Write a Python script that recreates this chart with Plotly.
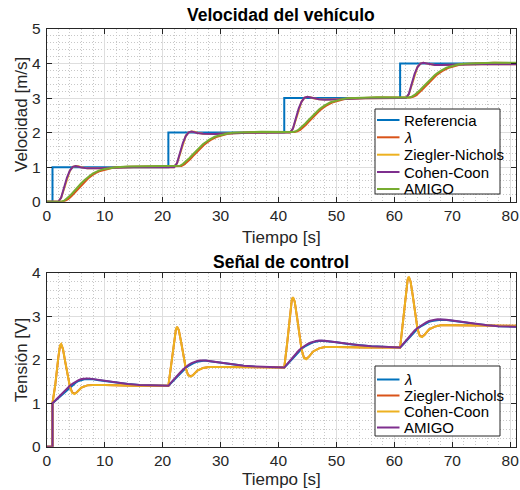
import plotly.graph_objects as go

# ---------------- data ----------------
# top: vehicle speed [m/s]
t_ref = [0, 1, 1, 21, 21, 41, 41, 61, 61, 81]
v_ref = [0, 0, 1, 1, 2, 2, 3, 3, 4, 4]

t_fast_v = [0, 2.0, 2.5, 3.0, 3.5, 4.0, 4.5, 5.0, 5.5, 6.0, 7.0, 8.0, 9.0, 10.0, 12.0, 15.0, 21.0,
            22.0, 22.5, 23.0, 23.5, 24.0, 24.5, 25.0, 25.5, 26.0, 27.0, 28.0, 29.0, 30.0, 32.0, 35.0, 41.0,
            42.0, 42.5, 43.0, 43.5, 44.0, 44.5, 45.0, 45.5, 46.0, 47.0, 48.0, 49.0, 50.0, 52.0, 55.0, 61.0,
            62.0, 62.5, 63.0, 63.5, 64.0, 64.5, 65.0, 65.5, 66.0, 67.0, 68.0, 69.0, 70.0, 72.0, 75.0, 81.0]
v_cc_v = [0, 0, 0.12, 0.40, 0.70, 0.90, 1.01, 1.03, 1.02, 0.99, 0.965, 0.96, 0.965, 0.975, 0.99, 1.0, 1.0,
          1.0, 1.12, 1.40, 1.70, 1.90, 2.01, 2.03, 2.02, 1.99, 1.965, 1.955, 1.96, 1.97, 1.985, 1.995, 2.0,
          2.0, 2.12, 2.40, 2.70, 2.90, 3.01, 3.035, 3.02, 2.99, 2.965, 2.955, 2.96, 2.97, 2.985, 2.995, 3.0,
          3.0, 3.12, 3.40, 3.70, 3.90, 4.0, 4.02, 4.0, 3.98, 3.96, 3.955, 3.96, 3.965, 3.975, 3.98, 3.98]
v_zn_v = [0, 0, 0.11, 0.39, 0.69, 0.90, 1.01, 1.035, 1.025, 0.995, 0.965, 0.96, 0.965, 0.975, 0.99, 1.0, 1.0,
          1.0, 1.11, 1.39, 1.69, 1.90, 2.01, 2.035, 2.025, 1.995, 1.965, 1.955, 1.96, 1.97, 1.985, 1.995, 2.0,
          2.0, 2.11, 2.39, 2.69, 2.90, 3.01, 3.04, 3.025, 2.995, 2.965, 2.955, 2.96, 2.97, 2.985, 2.995, 3.0,
          3.0, 3.11, 3.39, 3.69, 3.90, 4.0, 4.025, 4.005, 3.985, 3.96, 3.955, 3.96, 3.965, 3.975, 3.98, 3.98]

t_amigo_v = [0, 2.5, 3.0, 3.5, 4.0, 4.5, 5.0, 5.5, 6.0, 6.5, 7.0, 7.5, 8.0, 9.0, 10.0, 11.0, 12.0, 14.0, 17.0, 22.5,
             23.0, 23.5, 24.0, 24.5, 25.0, 25.5, 26.0, 26.5, 27.0, 27.5, 28.0, 29.0, 30.0, 31.0, 32.0, 34.0, 37.0, 42.5,
             43.0, 43.5, 44.0, 44.5, 45.0, 45.5, 46.0, 46.5, 47.0, 47.5, 48.0, 49.0, 50.0, 51.0, 52.0, 54.0, 57.0, 62.5,
             63.0, 63.5, 64.0, 64.5, 65.0, 65.5, 66.0, 66.5, 67.0, 67.5, 68.0, 69.0, 70.0, 71.0, 72.0, 74.0, 77.0, 81.0]
v_amigo_v = [0, 0, 0.03, 0.09, 0.17, 0.26, 0.36, 0.45, 0.54, 0.62, 0.70, 0.76, 0.82, 0.90, 0.95, 0.98, 1.0, 1.02, 1.025, 1.02,
             1.04, 1.09, 1.16, 1.24, 1.33, 1.42, 1.51, 1.59, 1.67, 1.73, 1.79, 1.88, 1.93, 1.97, 1.995, 2.015, 2.025, 2.02,
             2.04, 2.09, 2.16, 2.24, 2.33, 2.42, 2.51, 2.59, 2.67, 2.73, 2.79, 2.88, 2.93, 2.97, 2.995, 3.015, 3.025, 3.02,
             3.04, 3.09, 3.16, 3.24, 3.33, 3.42, 3.51, 3.59, 3.67, 3.73, 3.79, 3.88, 3.93, 3.97, 3.995, 4.015, 4.025, 4.02]

t_lam_v = [0, 2.75, 3.25, 3.75, 4.25, 4.75, 5.25, 5.75, 6.25, 6.75, 7.25, 7.75, 8.25, 9.25, 10.25, 11.25, 12.25, 14.25, 17.25, 22.75,
           23.25, 23.75, 24.25, 24.75, 25.25, 25.75, 26.25, 26.75, 27.25, 27.75, 28.25, 29.25, 30.25, 31.25, 32.25, 34.25, 37.25, 42.75,
           43.25, 43.75, 44.25, 44.75, 45.25, 45.75, 46.25, 46.75, 47.25, 47.75, 48.25, 49.25, 50.25, 51.25, 52.25, 54.25, 57.25, 62.75,
           63.25, 63.75, 64.25, 64.75, 65.25, 65.75, 66.25, 66.75, 67.25, 67.75, 68.25, 69.25, 70.25, 71.25, 72.25, 74.25, 77.25, 81.0]
v_lam_v = [0, 0, 0.03, 0.08, 0.16, 0.25, 0.35, 0.44, 0.53, 0.61, 0.69, 0.75, 0.81, 0.89, 0.94, 0.975, 0.995, 1.015, 1.02, 1.015,
           1.035, 1.08, 1.15, 1.23, 1.32, 1.41, 1.50, 1.58, 1.66, 1.72, 1.78, 1.87, 1.925, 1.965, 1.99, 2.01, 2.02, 2.015,
           2.035, 2.08, 2.15, 2.23, 2.32, 2.41, 2.50, 2.58, 2.66, 2.72, 2.78, 2.87, 2.925, 2.965, 2.99, 3.01, 3.02, 3.015,
           3.035, 3.08, 3.15, 3.23, 3.32, 3.41, 3.50, 3.58, 3.66, 3.72, 3.78, 3.87, 3.925, 3.965, 3.99, 4.01, 4.02, 4.015]

# bottom: control signal [V]
t_fast_u = [0, 1.0, 1.0, 1.5, 2.0, 2.3, 2.5, 2.8, 3.2, 3.6, 4.0, 4.4, 4.8, 5.2, 5.6, 6.0, 7.0, 8.0, 10.0, 12.0, 15.0, 21.0,
            21.5, 22.0, 22.3, 22.5, 22.8, 23.2, 23.6, 24.0, 24.4, 24.8, 25.2, 25.6, 26.0, 27.0, 28.0, 30.0, 32.0, 35.0, 41.0,
            41.5, 42.0, 42.3, 42.5, 42.8, 43.2, 43.6, 44.0, 44.4, 44.8, 45.2, 45.6, 46.0, 47.0, 48.0, 50.0, 52.0, 55.0, 61.0,
            61.5, 62.0, 62.3, 62.5, 62.8, 63.2, 63.6, 64.0, 64.4, 64.8, 65.2, 65.6, 66.0, 67.0, 68.0, 70.0, 72.0, 75.0, 81.0]
v_cc_u = [0, 0, 1.0, 1.45, 2.05, 2.33, 2.36, 2.25, 1.95, 1.62, 1.38, 1.24, 1.21, 1.25, 1.31, 1.36, 1.41, 1.42, 1.42, 1.41, 1.40, 1.40,
          1.88, 2.40, 2.70, 2.76, 2.68, 2.40, 2.06, 1.80, 1.64, 1.61, 1.64, 1.70, 1.75, 1.81, 1.83, 1.83, 1.83, 1.82, 1.82,
          2.38, 3.00, 3.38, 3.44, 3.34, 2.98, 2.55, 2.22, 2.04, 2.01, 2.06, 2.13, 2.19, 2.26, 2.29, 2.29, 2.28, 2.28, 2.28,
          2.84, 3.47, 3.85, 3.91, 3.80, 3.45, 3.02, 2.70, 2.54, 2.52, 2.57, 2.64, 2.70, 2.76, 2.79, 2.79, 2.79, 2.78, 2.78]
v_zn_u = [0, 0, 1.0, 1.44, 2.04, 2.32, 2.35, 2.25, 1.95, 1.63, 1.39, 1.25, 1.22, 1.25, 1.31, 1.36, 1.41, 1.42, 1.42, 1.41, 1.40, 1.40,
          1.87, 2.39, 2.69, 2.75, 2.68, 2.41, 2.07, 1.81, 1.65, 1.62, 1.64, 1.70, 1.75, 1.81, 1.83, 1.83, 1.83, 1.82, 1.82,
          2.37, 2.99, 3.37, 3.43, 3.34, 2.99, 2.56, 2.23, 2.05, 2.02, 2.06, 2.13, 2.19, 2.26, 2.29, 2.29, 2.28, 2.28, 2.28,
          2.83, 3.46, 3.84, 3.90, 3.80, 3.46, 3.03, 2.71, 2.55, 2.53, 2.57, 2.64, 2.70, 2.76, 2.79, 2.79, 2.79, 2.78, 2.78]

t_slow_u = [0, 1.0, 1.0, 1.5, 2.0, 2.5, 3.0, 3.5, 4.0, 4.5, 5.0, 5.5, 6.0, 6.5, 7.0, 7.5, 8.0, 9.0, 10.0, 12.0, 14.0, 16.0, 18.0, 21.0,
            21.5, 22.0, 22.5, 23.0, 23.5, 24.0, 24.5, 25.0, 25.5, 26.0, 26.5, 27.0, 27.5, 28.0, 29.0, 30.0, 32.0, 34.0, 36.0, 38.0, 41.0,
            41.5, 42.0, 42.5, 43.0, 43.5, 44.0, 44.5, 45.0, 45.5, 46.0, 46.5, 47.0, 47.5, 48.0, 49.0, 50.0, 52.0, 54.0, 56.0, 58.0, 61.0,
            61.5, 62.0, 62.5, 63.0, 63.5, 64.0, 64.5, 65.0, 65.5, 66.0, 66.5, 67.0, 67.5, 68.0, 69.0, 70.0, 72.0, 74.0, 76.0, 78.0, 81.0]
v_amigo_u = [0, 0, 1.0, 1.07, 1.14, 1.21, 1.28, 1.34, 1.40, 1.45, 1.50, 1.53, 1.555, 1.565, 1.57, 1.565, 1.555, 1.53, 1.51, 1.47, 1.44, 1.42, 1.41, 1.40,
             1.48, 1.56, 1.63, 1.70, 1.77, 1.83, 1.88, 1.92, 1.95, 1.97, 1.98, 1.985, 1.98, 1.97, 1.95, 1.93, 1.89, 1.86, 1.845, 1.83, 1.82,
             1.90, 1.98, 2.06, 2.14, 2.21, 2.27, 2.32, 2.36, 2.39, 2.415, 2.43, 2.44, 2.44, 2.435, 2.42, 2.40, 2.36, 2.33, 2.31, 2.295, 2.28,
             2.36, 2.44, 2.52, 2.60, 2.67, 2.73, 2.78, 2.82, 2.86, 2.89, 2.91, 2.92, 2.93, 2.93, 2.92, 2.90, 2.86, 2.82, 2.79, 2.77, 2.76]
v_lam_u = [0, 0, 1.0, 1.06, 1.12, 1.18, 1.25, 1.31, 1.37, 1.42, 1.47, 1.51, 1.535, 1.55, 1.555, 1.555, 1.55, 1.53, 1.51, 1.47, 1.44, 1.42, 1.41, 1.40,
           1.47, 1.54, 1.61, 1.68, 1.75, 1.81, 1.86, 1.90, 1.93, 1.955, 1.97, 1.975, 1.975, 1.965, 1.95, 1.93, 1.89, 1.86, 1.84, 1.83, 1.82,
           1.89, 1.96, 2.04, 2.12, 2.19, 2.25, 2.30, 2.34, 2.37, 2.40, 2.42, 2.43, 2.435, 2.43, 2.42, 2.40, 2.36, 2.33, 2.31, 2.295, 2.28,
           2.35, 2.42, 2.50, 2.58, 2.65, 2.71, 2.76, 2.80, 2.84, 2.87, 2.89, 2.905, 2.915, 2.92, 2.915, 2.90, 2.86, 2.82, 2.79, 2.77, 2.76]

x_ticks = [0, 10, 20, 30, 40, 50, 60, 70, 80]
y1_ticks = [0, 1, 2, 3, 4, 5]
y2_ticks = [0, 1, 2, 3, 4]

# ---------------- styling ----------------
W, H = 520, 490
FONT = "Liberation Sans, Arial, Helvetica, sans-serif"
BLUE, RED, YEL, PUR, GRN = "#0072BD", "#D95319", "#EDB120", "#7E2F8E", "#77AC30"
AX = "#262626"


def px(p):
    return p / W


def py(p):
    return 1 - p / H


LW = 2
fig = go.Figure()

top = [("Referencia", t_ref, v_ref, BLUE), ("<i>λ</i>", t_lam_v, v_lam_v, RED),
       ("Ziegler-Nichols", t_fast_v, v_zn_v, YEL), ("Cohen-Coon", t_fast_v, v_cc_v, PUR),
       ("AMIGO", t_amigo_v, v_amigo_v, GRN)]
for name, t, v, c in top:
    fig.add_trace(go.Scatter(x=t, y=v, name=name, mode="lines", line=dict(color=c, width=LW),
                             xaxis="x", yaxis="y", showlegend=False))

bot = [("<i>λ</i>", t_slow_u, v_lam_u, BLUE), ("Ziegler-Nichols", t_fast_u, v_zn_u, RED),
       ("Cohen-Coon", t_fast_u, v_cc_u, YEL), ("AMIGO", t_slow_u, v_amigo_u, PUR)]
for name, t, v, c in bot:
    fig.add_trace(go.Scatter(x=t, y=v, name=name, mode="lines", line=dict(color=c, width=LW),
                             xaxis="x2", yaxis="y2", showlegend=False))


def axis(**kw):
    d = dict(showline=True, linecolor=AX, linewidth=1, mirror="ticks", ticks="inside", ticklen=5,
             tickcolor=AX, tickwidth=1, showgrid=True, gridcolor="#dedede", gridwidth=1, zeroline=False,
             tickfont=dict(family=FONT, size=15.5, color=AX), fixedrange=True, automargin=False)
    d.update(kw)
    return d


xd = [px(46.7), px(516)]
xminor = dict(dtick=2, showgrid=True, gridcolor="#c8c8c8", griddash="1px,2px", gridwidth=1)
yminor = dict(dtick=0.2, showgrid=True, gridcolor="#c8c8c8", griddash="1px,2px", gridwidth=1)

fig.update_layout(
    width=W, height=H, margin=dict(l=0, r=0, t=0, b=0),
    paper_bgcolor="white", plot_bgcolor="white", showlegend=False,
    xaxis=axis(domain=xd, anchor="y", range=[0, 81], tickvals=x_ticks, minor=xminor),
    yaxis=axis(domain=[py(201.7), py(29)], anchor="x", range=[0, 5], tickvals=y1_ticks, minor=yminor,
               ticklabelstandoff=2),
    xaxis2=axis(domain=xd, anchor="y2", range=[0, 81], tickvals=x_ticks, minor=xminor),
    yaxis2=axis(domain=[py(446.7), py(272.7)], anchor="x2", range=[0, 4], tickvals=y2_ticks, minor=yminor,
                ticklabelstandoff=2),
)

# legend boxes (drawn as boxes with line samples and real text labels)
legends = [
    ((375, 109, 500, 194), [120.0, 137.3, 154.7, 172.0, 189.0], top),
    ((375, 366, 500, 436), [379.5, 395.5, 411.5, 427.5], bot),
]
for (x0, y0, x1, y1), ys, items in legends:
    fig.add_shape(type="rect", xref="paper", yref="paper", x0=px(x0), x1=px(x1), y0=py(y1), y1=py(y0),
                  fillcolor="white", line=dict(color=AX, width=1), layer="above")
    for yy, (name, _t, _v, c) in zip(ys, items):
        fig.add_shape(type="line", xref="paper", yref="paper", x0=px(377), x1=px(399.5), y0=py(yy), y1=py(yy),
                      line=dict(color=c, width=2), layer="above")
        fig.add_annotation(text=name, x=px(401.5), y=py(yy), xref="paper", yref="paper", showarrow=False,
                           xanchor="left", yanchor="middle", font=dict(family=FONT, size=15, color="black"))

xc = (46.7 + 516) / 2
ann = [
    ("<b>Velocidad del vehículo</b>", xc, 15, 0, 17.5, "black"),
    ("<b>Señal de control</b>", xc, 262, 0, 17.5, "black"),
    ("Tiempo [s]", xc, 237, 0, 17, AX),
    ("Tiempo [s]", xc, 479, 0, 17, AX),
    ("Velocidad [m/s]", 21, 115, -90, 17, AX),
    ("Tensión [V]", 21, 360, -90, 17, AX),
]
for text, x, y, rot, size, col in ann:
    fig.add_annotation(text=text, x=px(x), y=py(y), xref="paper", yref="paper", showarrow=False,
                       xanchor="center", yanchor="middle", textangle=rot,
                       font=dict(family=FONT, size=size, color=col))

fig.write_html("out.html")
